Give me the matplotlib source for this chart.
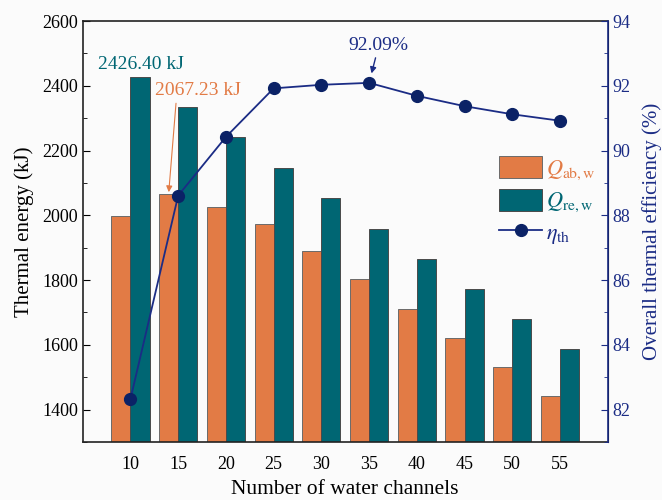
import numpy as np
import matplotlib
matplotlib.use('Agg')
import matplotlib.pyplot as plt
from matplotlib.patches import Patch
from matplotlib.lines import Line2D
from matplotlib.ticker import MultipleLocator

plt.rcParams['font.family'] = ['Liberation Serif', 'DejaVu Serif']
plt.rcParams['mathtext.fontset'] = 'stix'

# Data
channels = ['10', '15', '20', '25', '30', '35', '40', '45', '50', '55']
q_ab = [1998, 2067.23, 2026, 1973, 1889, 1804, 1710, 1621, 1532, 1441]
q_re = [2426.40, 2333, 2241, 2147, 2053, 1959, 1866, 1772, 1679, 1587]
eta = [82.33, 88.61, 90.42, 91.92, 92.03, 92.09, 91.69, 91.37, 91.12, 90.92]

orange = '#e27b45'
teal = '#006673'
navy = '#1b2c85'
dot = '#0b2266'
bg = '#fbfbfb'

fig = plt.figure(figsize=(6.62, 5.0), dpi=100, facecolor=bg)
ax = fig.add_axes([0.125, 0.116, 0.793, 0.842], facecolor=bg)
ax2 = ax.twinx()

x = np.arange(len(channels))
w = 0.4
ax.bar(x - w / 2, q_ab, width=w, color=orange, edgecolor='#6a6a6a', linewidth=0.7, zorder=2)
ax.bar(x + w / 2, q_re, width=w, color=teal, edgecolor='#4a4a4a', linewidth=0.7, zorder=2)

ax2.plot(x, eta, color=navy, linewidth=1.3, marker='o', markersize=8.5,
         markerfacecolor=dot, markeredgecolor=dot, zorder=3)

ax.set_xlim(-1, 10)
ax.set_ylim(1300, 2600)
ax2.set_ylim(81, 94)

ax.set_xticks(x)
ax.set_xticklabels(channels)
ax.yaxis.set_major_locator(MultipleLocator(200))
ax.yaxis.set_minor_locator(MultipleLocator(100))
ax2.yaxis.set_major_locator(MultipleLocator(2))
ax2.yaxis.set_minor_locator(MultipleLocator(1))

ax.tick_params(axis='x', length=0, labelsize=13, pad=10)
ax.tick_params(axis='y', which='major', direction='in', length=5, labelsize=13)
ax.tick_params(axis='y', which='minor', direction='in', length=3)
ax2.tick_params(axis='y', which='major', direction='in', length=5, labelsize=13,
                colors=navy)
ax2.tick_params(axis='y', which='minor', direction='in', length=3, colors=navy)

for s in ['left', 'top', 'bottom']:
    ax.spines[s].set_color('#222222')
    ax.spines[s].set_linewidth(1.2)
ax2.spines['right'].set_color(navy)
ax2.spines['right'].set_linewidth(1.2)
for s in ['left', 'top', 'bottom']:
    ax2.spines[s].set_visible(False)

ax.set_xlabel('Number of water channels', fontsize=15.5, labelpad=5)
ax.set_ylabel('Thermal energy (kJ)', fontsize=15, labelpad=6)
ax2.set_ylabel('Overall thermal efficiency (%)', fontsize=15, color=navy, labelpad=8)

# annotations
i_re = int(np.argmax(q_re))
ax.annotate(f'{q_re[i_re]:.2f} kJ', xy=(x[i_re] + w / 2, q_re[i_re]),
            xytext=(1, 3), textcoords='offset points', ha='center', va='bottom',
            fontsize=14, color=teal)
i_ab = int(np.argmax(q_ab))
ax.annotate(f'{q_ab[i_ab]:.2f} kJ', xy=(x[i_ab] - w / 2, q_ab[i_ab]),
            xytext=(21, 68), textcoords='offset points', ha='center', va='bottom',
            fontsize=14, color=orange,
            arrowprops=dict(arrowstyle='-|>', color=orange, lw=0.8,
                            mutation_scale=9, shrinkA=1, shrinkB=1,
                            relpos=(0.25, 0.0)))
i_eta = int(np.argmax(eta))
ax2.annotate(f'{eta[i_eta]:.2f}%', xy=(x[i_eta], eta[i_eta]),
             xytext=(7, 21), textcoords='offset points', ha='center', va='bottom',
             fontsize=14, color=navy,
             arrowprops=dict(arrowstyle='-|>', color=navy, lw=1.0,
                             mutation_scale=9, shrinkA=1, shrinkB=7))

handles = [Patch(facecolor=orange, edgecolor='#6a6a6a', linewidth=0.7),
           Patch(facecolor=teal, edgecolor='#4a4a4a', linewidth=0.7),
           Line2D([], [], color=navy, linewidth=1.3, marker='o', markersize=8.5,
                  markerfacecolor=dot, markeredgecolor=dot)]
labels = [r'$Q_{\mathrm{ab,w}}$', r'$Q_{\mathrm{re,w}}$', r'$\eta_{\mathrm{th}}$']
leg = ax2.legend(handles, labels, loc='upper left', bbox_to_anchor=(0.776, 0.70),
                 frameon=False, fontsize=16, handlelength=1.95, handleheight=1.15,
                 handletextpad=0.15, labelspacing=0.3, borderaxespad=0)
for t, c in zip(leg.get_texts(), [orange, teal, navy]):
    t.set_color(c)

fig.savefig('out.png', dpi=100, facecolor=bg)
